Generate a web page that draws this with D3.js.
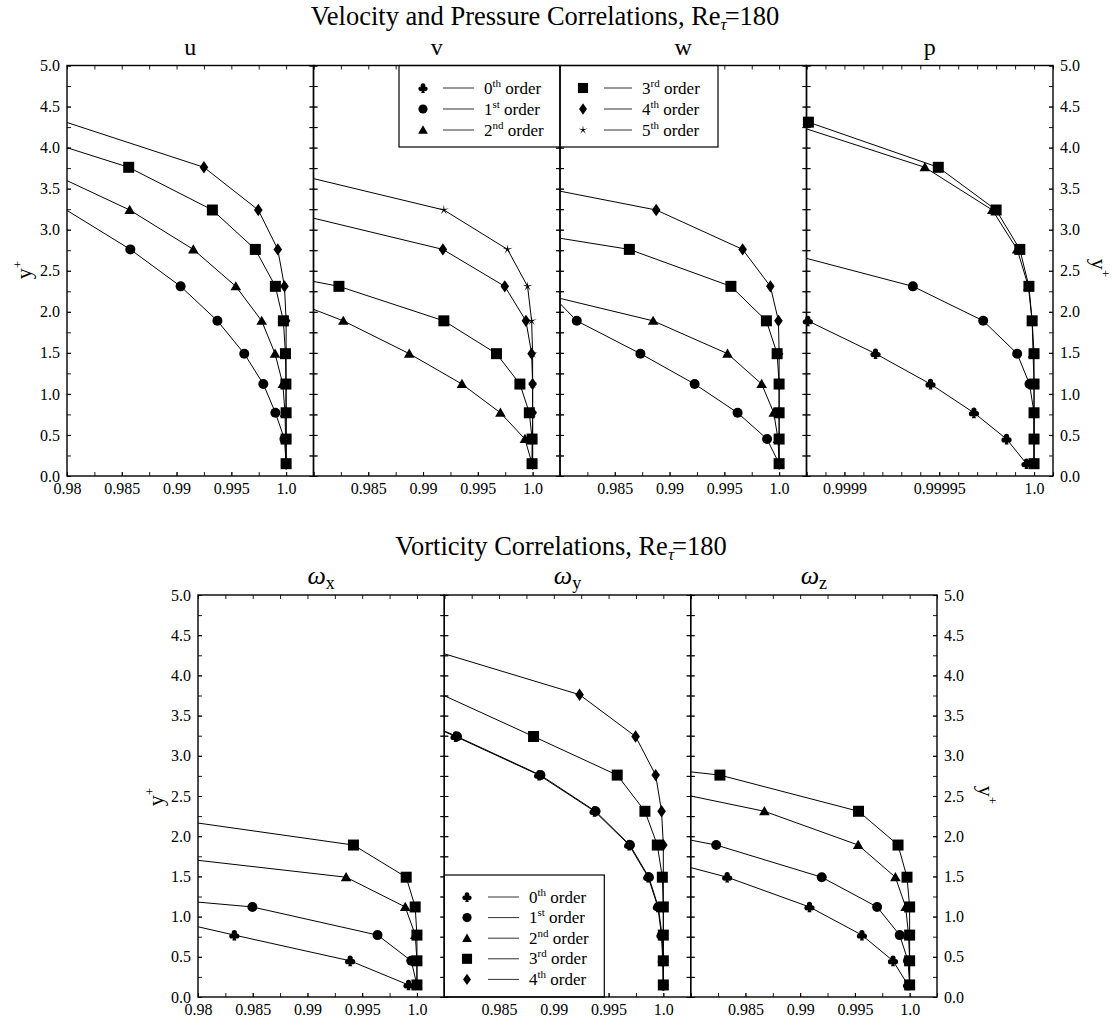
<!DOCTYPE html>
<html><head><meta charset="utf-8">
<script src="https://cdn.jsdelivr.net/npm/d3@7"></script>
<style>
body{margin:0;background:#fff}
svg{display:block}
text{font-family:"Liberation Serif","Times New Roman",serif;fill:#000;white-space:pre}
</style>
</head><body>
<svg id="c" width="1112" height="1034"></svg>
<script>
// ---------- data ----------
const yPlus = [0.15, 0.45, 0.77, 1.12, 1.49, 1.89, 2.31, 2.76, 3.24, 3.76, 4.31];

// velocity / pressure (x = correlation value at each y+ grid point)
const u_o1 = [1.0, 0.99985, 0.99902, 0.99792, 0.99618, 0.99373, 0.99037, 0.98578, 0.97994];
const u_o2 = [1.0, 0.99995, 0.9999, 0.9997, 0.99899, 0.99777, 0.99541, 0.99153, 0.98572, 0.9774];
const u_o3 = [1.0, 1.0, 1.0, 0.99998, 0.99994, 0.99975, 0.99902, 0.99719, 0.99327, 0.98563, 0.97266];
const u_o4 = [1.0, 1.0, 1.0, 1.0, 1.0, 1.0, 0.99985, 0.99924, 0.99746, 0.9925, 0.9799];

const v_o2 = [0.99995, 0.9993, 0.99706, 0.99355, 0.98874, 0.98272, 0.97456];
const v_o3 = [0.99995, 0.99995, 0.9997, 0.99884, 0.9967, 0.9919, 0.98232, 0.96492];
const v_o4 = [1.0, 1.0, 1.0, 1.0, 0.99991, 0.99939, 0.99746, 0.99181, 0.9769];
const v_o5 = [1.0, 1.0, 1.0, 1.0, 1.0, 0.99991, 0.99954, 0.99771, 0.9919, 0.97572];

const w_o1 = [1.0, 0.9989, 0.99621, 0.99229, 0.98734, 0.98153, 0.97847];
const w_o2 = [1.0, 0.9999, 0.99951, 0.99841, 0.99529, 0.9885, 0.97544];
const w_o3 = [1.0, 1.0, 1.0, 1.0, 0.99982, 0.99884, 0.9956, 0.98633, 0.964];
const w_o4 = [1.0, 1.0, 1.0, 1.0, 1.0, 0.99994, 0.9992, 0.99667, 0.98878, 0.96887];

const p_o0 = [0.999996, 0.9999855, 0.9999683, 0.9999454, 0.9999164, 0.9998807];
const p_o1 = [1.0, 1.0, 1.0, 0.9999976, 0.9999911, 0.9999732, 0.9999361, 0.999862];
const p_o2 = [1.0, 1.0, 1.0, 1.0, 0.9999995, 0.999999, 0.999997, 0.9999911, 0.999978, 0.9999424, 0.9998691];
const p_o3 = [1.0, 1.0, 1.0, 1.0, 1.0, 0.999999, 0.9999973, 0.9999925, 0.99998, 0.9999495, 0.999881];

// vorticity
const wx_o0 = [0.99923, 0.9939, 0.98332, 0.9721];
const wx_o1 = [1.0, 0.99948, 0.9964, 0.98497, 0.9544];
const wx_o2 = [1.0, 1.0, 0.99985, 0.99893, 0.99353, 0.96775];
const wx_o3 = [1.0, 1.0, 1.0, 0.99984, 0.99902, 0.9942, 0.9724];

const wy_o0 = [1.0, 0.99995, 0.99983, 0.9995, 0.99862, 0.99688, 0.99372, 0.98866, 0.98103, 0.9722];
const wy_o1 = [1.0, 1.0, 0.99988, 0.99954, 0.99868, 0.99695, 0.99381, 0.98878, 0.98116, 0.9725];
const wy_o3 = [1.0, 1.0, 1.0, 1.0, 0.99991, 0.99945, 0.99832, 0.99579, 0.98815, 0.9798];
const wy_o4 = [1.0, 1.0, 1.0, 1.0, 1.0, 1.0, 0.99984, 0.9993, 0.99747, 0.99235, 0.979];

const wz_o0 = [0.99985, 0.99848, 0.99564, 0.99085, 0.98333, 0.9722];
const wz_o1 = [1.0, 0.99985, 0.99909, 0.99703, 0.99197, 0.98233, 0.9663];
const wz_o2 = [1.0, 1.0, 0.9999, 0.99964, 0.9987, 0.9953, 0.98673, 0.9708];
const wz_o3 = [1.0, 1.0, 1.0, 1.0, 0.99976, 0.99894, 0.99533, 0.98267, 0.9507];

// ticks
const xTicksStd = [0.98, 0.985, 0.99, 0.995, 1.0];
const xTickLabelsStd = ["0.98", "0.985", "0.99", "0.995", "1.0"];
const xTicksP = [0.9999, 0.99995, 1.0];
const xTickLabelsP = ["0.9999", "0.99995", "1.0"];
const yTicks = [0, 0.5, 1, 1.5, 2, 2.5, 3, 3.5, 4, 4.5, 5];
const yTickLabels = ["0.0","0.5","1.0","1.5","2.0","2.5","3.0","3.5","4.0","4.5","5.0"];
const domStd = [0.98, 1.0025];
const domP = [0.99988, 1.00001];

const orderNames = [["0","th"],["1","st"],["2","nd"],["3","rd"],["4","th"],["5","th"]];

// ---------- layout ----------
const svg = d3.select("#c");
const FONT = "'Liberation Serif', 'Times New Roman', serif";

function clubPath(){
  const r = 2.6, c = [[0,-2.6],[-2.5,0.9],[2.5,0.9]];
  let d = "";
  c.forEach(([cx,cy]) => { d += `M${cx-r},${cy}a${r},${r} 0 1,0 ${2*r},0a${r},${r} 0 1,0 ${-2*r},0Z`; });
  d += "M0,-0.5L-2.0,5.4L2.0,5.4Z";
  return d;
}
function starPath(){
  const pts = [];
  for (let i = 0; i < 10; i++) {
    const a = -Math.PI/2 + i*Math.PI/5, r = (i%2===0) ? 5.2 : 1.1;
    pts.push([r*Math.cos(a), r*Math.sin(a)]);
  }
  return "M" + pts.map(p => p.join(",")).join("L") + "Z";
}
const symbols = {
  o0: clubPath(),
  o1: "M-5,0a5,5 0 1,0 10,0a5,5 0 1,0 -10,0Z",
  o2: "M0,-5.2L5.3,4L-5.3,4Z",
  o3: "M-5.5,-5.5H5.5V5.5H-5.5Z",
  o4: "M0,-6.2L4.3,0L0,6.2L-4.3,0Z",
  o5: starPath()
};
const markerOrder = ["o0","o1","o2","o4","o5","o3"];

let clipId = 0;
const frames = [];

function drawPanel(cfg){
  const g = svg.append("g");
  const x = d3.scaleLinear().domain(cfg.domain).range([cfg.x0, cfg.x1]);
  const y = d3.scaleLinear().domain([0, 5]).range([cfg.yb, cfg.yt]);
  const id = "clip" + (clipId++);
  svg.append("clipPath").attr("id", id).append("rect")
    .attr("x", cfg.x0).attr("y", cfg.yt).attr("width", cfg.x1 - cfg.x0).attr("height", cfg.yb - cfg.yt);

  // axes
  const minorX = cfg.minorX, minorY = d3.range(0, 21).map(i => i * 0.25);
  const fmtX = (d, i) => cfg.xLabels[i];
  g.append("g").attr("transform", `translate(0,${cfg.yb})`)
    .call(d3.axisBottom(x).tickValues(cfg.xTicks).tickSize(-4).tickPadding(7).tickFormat(fmtX));
  g.append("g").attr("transform", `translate(0,${cfg.yb})`)
    .call(d3.axisBottom(x).tickValues(minorX).tickSize(-4).tickFormat(""));
  g.append("g").attr("transform", `translate(0,${cfg.yt})`)
    .call(d3.axisTop(x).tickValues(minorX).tickSize(-4).tickFormat(""));
  g.append("g").attr("transform", `translate(${cfg.x0},0)`)
    .call(d3.axisLeft(y).tickValues(cfg.leftLabels ? yTicks : minorY).tickSize(-4).tickPadding(7)
      .tickFormat(cfg.leftLabels ? ((d, i) => yTickLabels[i]) : ""));
  g.append("g").attr("transform", `translate(${cfg.x0},0)`)
    .call(d3.axisLeft(y).tickValues(minorY).tickSize(-4).tickFormat(""));
  g.append("g").attr("transform", `translate(${cfg.x1},0)`)
    .call(d3.axisRight(y).tickValues(cfg.rightLabels ? yTicks : minorY).tickSize(-4).tickPadding(7)
      .tickFormat(cfg.rightLabels ? ((d, i) => yTickLabels[i]) : ""));
  g.append("g").attr("transform", `translate(${cfg.x1},0)`)
    .call(d3.axisRight(y).tickValues(minorY).tickSize(-4).tickFormat(""));
  g.selectAll(".domain").remove();
  g.selectAll("g").attr("font-family", FONT).attr("font-size", 16);
  g.selectAll(".tick line").attr("stroke", "#000").attr("stroke-width", 0.9);
  g.selectAll(".tick text").attr("fill", "#000").style("font-family", FONT).style("font-size", "16px");

  // data lines
  const line = d3.line().x(d => x(d.x)).y(d => y(d.y));
  const lineG = g.append("g").attr("clip-path", `url(#${id})`);
  Object.keys(cfg.series).forEach(k => {
    const pts = cfg.series[k].map((v, i) => ({x: v, y: yPlus[i]}));
    lineG.append("path").attr("d", line(pts)).attr("fill", "none")
      .attr("stroke", "#000").attr("stroke-width", 1);
  });
  // markers (only inside x-range)
  const [d0, d1] = cfg.domain;
  markerOrder.filter(k => cfg.series[k]).forEach(k => {
    const pts = cfg.series[k].map((v, i) => ({x: v, y: yPlus[i]}))
      .filter(p => p.x >= d0 && p.x <= d1 && p.y <= 5);
    g.append("g").selectAll("path").data(pts).join("path")
      .attr("d", symbols[k])
      .attr("transform", p => `translate(${x(p.x)},${y(p.y)})`)
      .attr("fill", "#000");
  });

  // title
  const t = svg.append("text").attr("x", (cfg.x0 + cfg.x1) / 2).attr("y", cfg.yt - 11)
    .attr("text-anchor", "middle").style("font-family", FONT).style("font-size", "24px");
  if (cfg.title.length === 1) {
    t.text(cfg.title);
  } else {
    t.append("tspan").style("font-style", "italic").style("font-size", "26px").text(cfg.title[0]);
    t.append("tspan").style("font-size", "18px").attr("dy", 5).text(cfg.title[1]);
  }
  frames.push(cfg);
}

// ----- top row -----
const TX = [67, 313.5, 560, 806.5, 1053], TYT = 65.5, TYB = 476;
const minorStd = d3.range(0, 10).map(i => 0.98 + i * 0.0025);
const minorP = d3.range(0, 14).map(i => 0.99988 + i * 0.00001);
const topPanels = [
  {title: "u", series: {o1: u_o1, o2: u_o2, o3: u_o3, o4: u_o4}},
  {title: "v", series: {o2: v_o2, o3: v_o3, o4: v_o4, o5: v_o5}},
  {title: "w", series: {o1: w_o1, o2: w_o2, o3: w_o3, o4: w_o4}},
  {title: "p", series: {o0: p_o0, o1: p_o1, o2: p_o2, o3: p_o3}}
];
topPanels.forEach((p, i) => {
  const isP = i === 3;
  drawPanel({
    title: p.title, series: p.series,
    x0: TX[i], x1: TX[i + 1], yt: TYT, yb: TYB,
    domain: isP ? domP : domStd,
    xTicks: isP ? xTicksP : (i === 0 ? xTicksStd : xTicksStd.slice(1)),
    xLabels: isP ? xTickLabelsP : (i === 0 ? xTickLabelsStd : xTickLabelsStd.slice(1)),
    minorX: isP ? minorP : minorStd,
    leftLabels: i === 0, rightLabels: i === 3
  });
});

// ----- bottom row -----
const BX = [198, 444.3, 690.7, 937], BYT = 595, BYB = 997;
const botPanels = [
  {title: ["\u03c9", "x"], series: {o0: wx_o0, o1: wx_o1, o2: wx_o2, o3: wx_o3}},
  {title: ["\u03c9", "y"], series: {o0: wy_o0, o1: wy_o1, o3: wy_o3, o4: wy_o4}},
  {title: ["\u03c9", "z"], series: {o0: wz_o0, o1: wz_o1, o2: wz_o2, o3: wz_o3}}
];
botPanels.forEach((p, i) => {
  drawPanel({
    title: p.title, series: p.series,
    x0: BX[i], x1: BX[i + 1], yt: BYT, yb: BYB,
    domain: domStd,
    xTicks: i === 0 ? xTicksStd : xTicksStd.slice(1),
    xLabels: i === 0 ? xTickLabelsStd : xTickLabelsStd.slice(1),
    minorX: minorStd,
    leftLabels: i === 0, rightLabels: i === 2
  });
});

// ----- main titles -----
function mainTitle(x, y, txt){
  const t = svg.append("text").attr("x", x).attr("y", y).attr("text-anchor", "middle")
    .style("font-family", FONT).style("font-size", "26.5px");
  t.append("tspan").text(txt + "Re");
  t.append("tspan").style("font-size", "17px").style("font-style", "italic").attr("dy", 5).text("\u03c4");
  t.append("tspan").attr("dy", -5).attr("dx", -2).text("=180");
}
mainTitle(545, 25, "Velocity and Pressure Correlations, ");
mainTitle(561, 555, "Vorticity Correlations, ");

// ----- y+ labels -----
function yLabel(x, y, rot){
  const t = svg.append("text").attr("transform", `translate(${x},${y}) rotate(${rot})`)
    .attr("text-anchor", "middle").style("font-family", FONT).style("font-size", "22px");
  t.append("tspan").text("y");
  t.append("tspan").style("font-size", "13px").attr("dy", -9).text("+");
}
yLabel(31, 270, -90);
yLabel(1092, 268, 90);
yLabel(163, 797, -90);
yLabel(979, 795, 90);

// ----- legends -----
function legend(box, groups){
  svg.append("rect").attr("x", box[0]).attr("y", box[1]).attr("width", box[2]).attr("height", box[3])
    .attr("fill", "#fff").attr("stroke", "#000").attr("stroke-width", 1.2);
  groups.forEach(gr => {
    gr.keys.forEach((k, j) => {
      const cy = gr.y0 + j * gr.dy;
      svg.append("path").attr("d", symbols[k])
        .attr("fill", "#000").attr("transform", `translate(${gr.sx},${cy}) scale(0.92)`);
      svg.append("line").attr("x1", gr.l0).attr("x2", gr.l1).attr("y1", cy).attr("y2", cy)
        .attr("stroke", "#333").attr("stroke-width", 1);
      const idx = +k.slice(1);
      const t = svg.append("text").attr("x", gr.tx).attr("y", cy + 5.5)
        .style("font-family", FONT).style("font-size", "17px");
      t.append("tspan").text(orderNames[idx][0]);
      t.append("tspan").style("font-size", "11px").attr("dy", -7).text(orderNames[idx][1]);
      t.append("tspan").attr("dy", 7).text(" order");
    });
  });
}
legend([399, 65.5, 319, 81.5], [
  {keys: ["o0","o1","o2"], sx: 423, l0: 443, l1: 474, tx: 484, y0: 88, dy: 21},
  {keys: ["o3","o4","o5"], sx: 583, l0: 604, l1: 632, tx: 642, y0: 88, dy: 21}
]);
legend([444.3, 875, 160, 122], [
  {keys: ["o0","o1","o2","o3","o4"], sx: 467, l0: 488, l1: 519, tx: 529, y0: 897, dy: 20.6}
]);

// ----- frames on top -----
frames.forEach(c => {
  svg.append("rect").attr("x", c.x0).attr("y", c.yt).attr("width", c.x1 - c.x0).attr("height", c.yb - c.yt)
    .attr("fill", "none").attr("stroke", "#000").attr("stroke-width", 1.4);
});
</script>
</body></html>
